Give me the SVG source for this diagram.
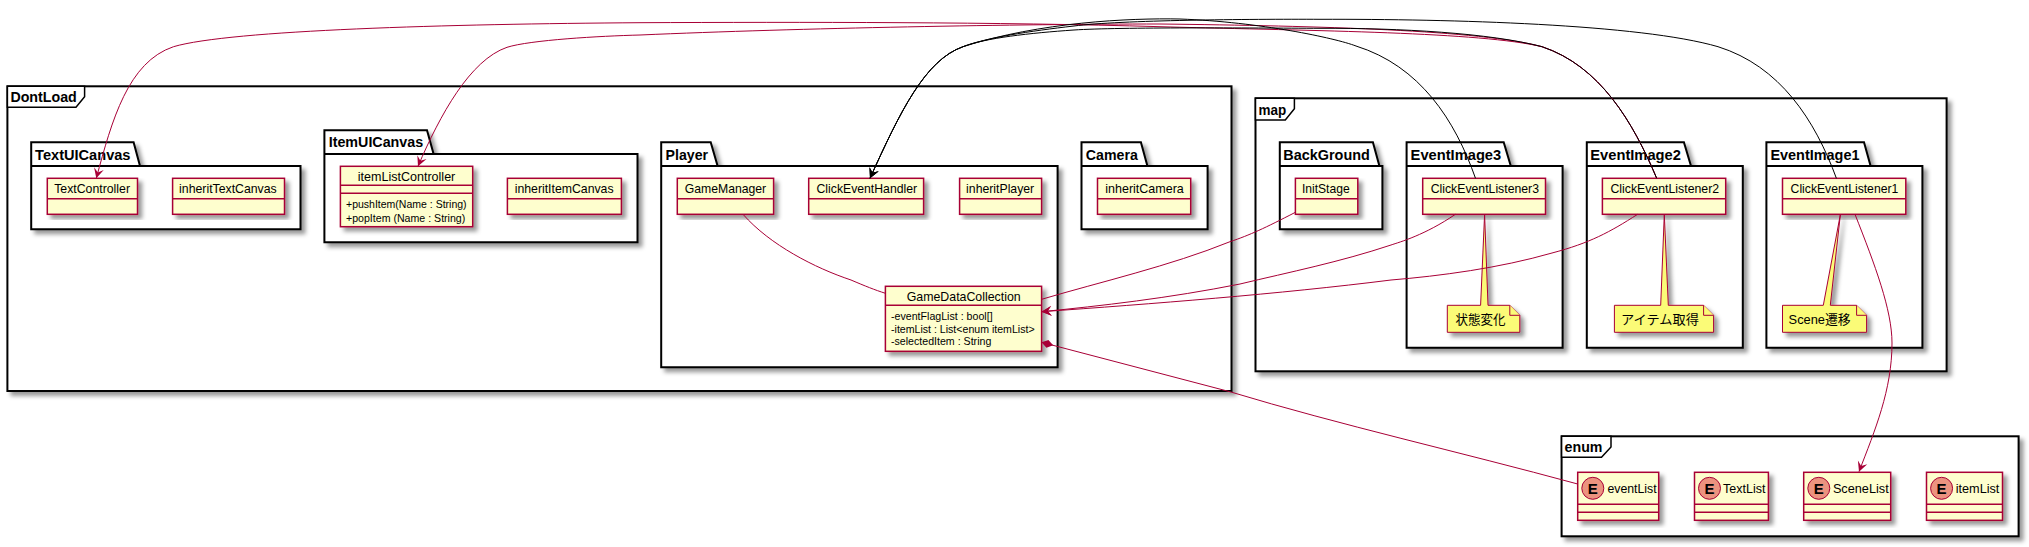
<svg xmlns="http://www.w3.org/2000/svg" width="2029" height="547" viewBox="0 0 2029 547">
<style>
text{font-family:"Liberation Sans",Arial,"Noto Sans CJK JP",sans-serif;fill:#000}
.pk{font-size:14px;font-weight:bold}
.cn{font-size:13px}
.mb{font-size:11px}
.nt{font-size:13px;font-family:"Liberation Sans","Noto Sans CJK JP",sans-serif}
.sh{filter:url(#shadow)}
.pkg{fill:#fff;stroke:#000;stroke-width:2}
.lab{fill:#fff;stroke:#000;stroke-width:1.5}
.box{fill:#FEFECE;stroke:#A80036;stroke-width:1.5}
.div{fill:none;stroke:#A80036;stroke-width:1.5}
.note{fill:#FBFB77;stroke:#A80036;stroke-width:1}
.circ{fill:#EB937F;stroke:#A80036;stroke-width:1}
.e{font-size:15px;font-weight:bold;text-anchor:middle}
.r{fill:none;stroke:#A80036;stroke-width:1}
.k{fill:none;stroke:#000;stroke-width:1}
</style>
<defs>
<filter id="shadow" x="-10%" y="-10%" width="125%" height="125%">
<feGaussianBlur in="SourceAlpha" stdDeviation="2"/>
<feColorMatrix type="matrix" values="0 0 0 0 0 0 0 0 0 0 0 0 0 0 0 0 0 0 .4 0"/>
<feOffset dx="4" dy="4" result="b"/>
<feBlend in="SourceGraphic" in2="b" mode="normal"/>
</filter>
<marker id="arrR" markerUnits="userSpaceOnUse" markerWidth="14" markerHeight="12" refX="11" refY="6" orient="auto" overflow="visible"><path d="M1,1 L11,6 L1,11 L5,6 Z" fill="#A80036"/></marker>
<marker id="arrK" markerUnits="userSpaceOnUse" markerWidth="14" markerHeight="12" refX="11" refY="6" orient="auto" overflow="visible"><path d="M1,1 L11,6 L1,11 L5,6 Z" fill="#000"/></marker>
<marker id="dia" markerUnits="userSpaceOnUse" markerWidth="14" markerHeight="10" refX="0" refY="5" orient="auto" overflow="visible"><path d="M0,5 L6,1 L12,5 L6,9 Z" fill="#A80036"/></marker>
</defs>

<g id="frame-DontLoad"><rect class="pkg sh" x="7.4" y="86.3" width="1224.1" height="304.7"/><path class="lab" d="M7.4,107.3H76L84.6,96.7V86.3H7.4Z"/><text class="pk" x="10.4" y="101.7" textLength="66.4" lengthAdjust="spacingAndGlyphs">DontLoad</text></g>
<g id="frame-map"><rect class="pkg sh" x="1255.5" y="98.3" width="691.1" height="273"/><path class="lab" d="M1255.5,120H1285.3L1294.4,108.7V98.3H1255.5Z"/><text class="pk" x="1258.6" y="115" textLength="27.7" lengthAdjust="spacingAndGlyphs">map</text></g>
<g id="frame-enum"><rect class="pkg sh" x="1561.6" y="436.3" width="457" height="100"/><path class="lab" d="M1561.6,457.3H1601.5L1611,447V436.3H1561.6Z"/><text class="pk" x="1564.6" y="451.7" textLength="37.8" lengthAdjust="spacingAndGlyphs">enum</text></g>

<g id="pkg-TextUICanvas"><path class="pkg sh" d="M31.2,142.3H133.6L140,166H300.5V229.3H31.2Z"/><path class="pkg" d="M31.2,166H140" /><text class="pk" x="35.1" y="160" textLength="95.4" lengthAdjust="spacingAndGlyphs">TextUICanvas</text></g>
<g id="pkg-ItemUICanvas"><path class="pkg sh" d="M324.4,130.3H427L433.6,154H637.5V242.3H324.4Z"/><path class="pkg" d="M324.4,154H433.6"/><text class="pk" x="328.7" y="147.3" textLength="94.5" lengthAdjust="spacingAndGlyphs">ItemUICanvas</text></g>
<g id="pkg-Player"><path class="pkg sh" d="M661.2,142.3H710.7L717.6,166H1057.6V367.3H661.2Z"/><path class="pkg" d="M661.2,166H717.6"/><text class="pk" x="665.6" y="160" textLength="42.5" lengthAdjust="spacingAndGlyphs">Player</text></g>
<g id="pkg-Camera"><path class="pkg sh" d="M1081.5,142.3H1140.9L1147.4,166H1207.6V229.3H1081.5Z"/><path class="pkg" d="M1081.5,166H1147.4"/><text class="pk" x="1085.8" y="160" textLength="52" lengthAdjust="spacingAndGlyphs">Camera</text></g>
<g id="pkg-BackGround"><path class="pkg sh" d="M1279.8,142.3H1372.9L1379.4,166H1382.4V229.3H1279.8Z"/><path class="pkg" d="M1279.8,166H1382.4"/><text class="pk" x="1283.3" y="160" textLength="86.5" lengthAdjust="spacingAndGlyphs">BackGround</text></g>
<g id="pkg-EventImage3"><path class="pkg sh" d="M1406.6,142.3H1503.7L1510.8,166H1562.6V347.7H1406.6Z"/><path class="pkg" d="M1406.6,166H1510.8"/><text class="pk" x="1410.6" y="160" textLength="90.6" lengthAdjust="spacingAndGlyphs">EventImage3</text></g>
<g id="pkg-EventImage2"><path class="pkg sh" d="M1586.8,142.3H1683.9L1691,166H1742.8V347.7H1586.8Z"/><path class="pkg" d="M1586.8,166H1691"/><text class="pk" x="1590.3" y="160" textLength="90.6" lengthAdjust="spacingAndGlyphs">EventImage2</text></g>
<g id="pkg-EventImage1"><path class="pkg sh" d="M1766.4,142.3H1864L1870.6,166H1922.4V347.7H1766.4Z"/><path class="pkg" d="M1766.4,166H1870.6"/><text class="pk" x="1770.4" y="160" textLength="89.1" lengthAdjust="spacingAndGlyphs">EventImage1</text></g>

<g id="TextController"><rect class="box sh" x="47.3" y="178.3" width="90.2" height="36"/><path class="div" d="M47.3,198.7H137.5"/><text class="cn" x="54.2" y="193.3" textLength="75.8" lengthAdjust="spacingAndGlyphs">TextController</text></g>
<g id="inheritTextCanvas"><rect class="box sh" x="172.6" y="178.3" width="111.9" height="36"/><path class="div" d="M172.6,198.7H284.5"/><text class="cn" x="179.1" y="193.3" textLength="97.6" lengthAdjust="spacingAndGlyphs">inheritTextCanvas</text></g>
<g id="itemListController"><rect class="box sh" x="340.4" y="166.3" width="132.3" height="60.4"/><path class="div" d="M340.4,185.3H472.7M340.4,193.3H472.7"/><text class="cn" x="357.8" y="181.3" textLength="97.5" lengthAdjust="spacingAndGlyphs">itemListController</text><text class="mb" x="346" y="208.3" textLength="120.6" lengthAdjust="spacingAndGlyphs">+pushItem(Name : String)</text><text class="mb" x="346" y="221.5" textLength="119.3" lengthAdjust="spacingAndGlyphs">+popItem (Name : String)</text></g>
<g id="inheritItemCanvas"><rect class="box sh" x="507.4" y="178.3" width="114" height="36"/><path class="div" d="M507.4,198.7H621.4"/><text class="cn" x="514.7" y="193.3" textLength="98.9" lengthAdjust="spacingAndGlyphs">inheritItemCanvas</text></g>
<g id="GameManager"><rect class="box sh" x="677.3" y="178.3" width="96.3" height="36"/><path class="div" d="M677.3,198.7H773.6"/><text class="cn" x="684.7" y="193.3" textLength="81.5" lengthAdjust="spacingAndGlyphs">GameManager</text></g>
<g id="ClickEventHandler"><rect class="box sh" x="808.7" y="178.3" width="114.9" height="36"/><path class="div" d="M808.7,198.7H923.6"/><text class="cn" x="816.5" y="193.3" textLength="100.6" lengthAdjust="spacingAndGlyphs">ClickEventHandler</text></g>
<g id="inheritPlayer"><rect class="box sh" x="959.6" y="178.3" width="82" height="36"/><path class="div" d="M959.6,198.7H1041.6"/><text class="cn" x="966.1" y="193.3" textLength="68.1" lengthAdjust="spacingAndGlyphs">inheritPlayer</text></g>
<g id="inheritCamera"><rect class="box sh" x="1097.5" y="178.3" width="93.2" height="36"/><path class="div" d="M1097.5,198.7H1190.7"/><text class="cn" x="1105.3" y="193.3" textLength="78.5" lengthAdjust="spacingAndGlyphs">inheritCamera</text></g>
<g id="GameDataCollection"><rect class="box sh" x="885.4" y="286.3" width="156.2" height="65"/><path class="div" d="M885.4,305.3H1041.6"/><text class="cn" x="906.7" y="300.7" textLength="114" lengthAdjust="spacingAndGlyphs">GameDataCollection</text><text class="mb" x="891" y="320" textLength="101.6" lengthAdjust="spacingAndGlyphs">-eventFlagList : bool[]</text><text class="mb" x="891" y="332.7" textLength="143.6" lengthAdjust="spacingAndGlyphs">-itemList : List&lt;enum itemList&gt;</text><text class="mb" x="891" y="345" textLength="100.3" lengthAdjust="spacingAndGlyphs">-selectedItem : String</text></g>

<g id="InitStage"><rect class="box sh" x="1295.4" y="178.3" width="62.4" height="36"/><path class="div" d="M1295.4,198.7H1357.8"/><text class="cn" x="1301.9" y="193.3" textLength="47.8" lengthAdjust="spacingAndGlyphs">InitStage</text></g>
<g id="ClickEventListener3"><rect class="box sh" x="1422.7" y="178.3" width="122.8" height="36"/><path class="div" d="M1422.7,198.7H1545.5"/><text class="cn" x="1430.7" y="193.3" textLength="108.3" lengthAdjust="spacingAndGlyphs">ClickEventListener3</text></g>
<g id="ClickEventListener2"><rect class="box sh" x="1602.4" y="178.3" width="123.3" height="36"/><path class="div" d="M1602.4,198.7H1725.7"/><text class="cn" x="1610.4" y="193.3" textLength="108.7" lengthAdjust="spacingAndGlyphs">ClickEventListener2</text></g>
<g id="ClickEventListener1"><rect class="box sh" x="1782.5" y="178.3" width="123.3" height="36"/><path class="div" d="M1782.5,198.7H1905.8"/><text class="cn" x="1790.6" y="193.3" textLength="107.7" lengthAdjust="spacingAndGlyphs">ClickEventListener1</text></g>

<g id="note-state"><path class="note sh" d="M1447.3,305.3H1480.6L1484.6,214.3L1488,305.3H1509.8L1519.8,315.3V332.3H1447.3Z"/><path class="note" d="M1509.8,305.3V315.3H1519.8"/><text class="nt" x="1455.4" y="324" textLength="50" lengthAdjust="spacingAndGlyphs">状態変化</text></g>
<g id="note-item"><path class="note sh" d="M1614.4,305.3H1660.7L1664.3,214.3L1668.3,305.3H1703.6L1713.6,315.3V332.3H1614.4Z"/><path class="note" d="M1703.6,305.3V315.3H1713.6"/><text class="nt" x="1621" y="324" textLength="78" lengthAdjust="spacingAndGlyphs">アイテム取得</text></g>
<g id="note-scene"><path class="note sh" d="M1782.5,305.3H1823.3L1840.4,214.3L1830.3,305.3H1856.6L1866.6,315.3V332.3H1782.5Z"/><path class="note" d="M1856.6,305.3V315.3H1866.6"/><text class="nt" x="1788.6" y="324" textLength="62" lengthAdjust="spacingAndGlyphs">Scene遷移</text></g>

<g id="eventList"><rect class="box sh" x="1577.7" y="472.3" width="81" height="48"/><path class="div" d="M1577.7,504.3H1658.7M1577.7,512.3H1658.7"/><circle class="circ" cx="1592.8" cy="488.3" r="11"/><text class="e" x="1592.8" y="494">E</text><text class="cn" x="1607.4" y="492.7" textLength="49.3" lengthAdjust="spacingAndGlyphs">eventList</text></g>
<g id="TextList"><rect class="box sh" x="1694.5" y="472.3" width="73.9" height="48"/><path class="div" d="M1694.5,504.3H1768.4M1694.5,512.3H1768.4"/><circle class="circ" cx="1709.5" cy="488.3" r="11"/><text class="e" x="1709.5" y="494">E</text><text class="cn" x="1723.1" y="492.7" textLength="42.3" lengthAdjust="spacingAndGlyphs">TextList</text></g>
<g id="SceneList"><rect class="box sh" x="1803.7" y="472.3" width="87" height="48"/><path class="div" d="M1803.7,504.3H1890.7M1803.7,512.3H1890.7"/><circle class="circ" cx="1818.8" cy="488.3" r="11"/><text class="e" x="1818.8" y="494">E</text><text class="cn" x="1832.9" y="492.7" textLength="55.8" lengthAdjust="spacingAndGlyphs">SceneList</text></g>
<g id="itemList"><rect class="box sh" x="1926.5" y="472.3" width="76" height="48"/><path class="div" d="M1926.5,504.3H2002.5M1926.5,512.3H2002.5"/><circle class="circ" cx="1941.6" cy="488.3" r="11"/><text class="e" x="1941.6" y="494">E</text><text class="cn" x="1955.7" y="492.7" textLength="43.7" lengthAdjust="spacingAndGlyphs">itemList</text></g>

<g id="connectors">
<path class="r" marker-end="url(#arrR)" d="M1656.7,178.3C1633,122 1600,66 1542,46.7C1480,32 1320,31 1160,26.7C1000,22 800,22 640,22.7C450,24 230,30 173.5,46.7C128,62 112,120 96.3,178.3"/>
<path class="r" marker-end="url(#arrR)" d="M1656.7,178.3C1633,122 1600,66 1542,46.7C1480,30 1320,26 1160,24C1020,24 800,28 640,35C600,36 530,40 507,47.3C470,60 440,115 418,166.3"/>
<path class="k" marker-end="url(#arrK)" d="M1836.4,178.3C1815,120 1780,66 1718,46.7C1640,24 1450,19 1320,19.3C1250,19 1120,20 1074,26C1030,31 985,38 963,46.7C925,60 900,112 870,178.3"/>
<path class="k" marker-end="url(#arrK)" d="M1656.7,178.3C1633,122 1600,66 1542,46.7C1490,33 1400,28 1320,28.3C1250,28 1120,27 1074,30C1030,33 985,38 963,46.7C925,60 900,112 870,178.3"/>
<path class="k" marker-end="url(#arrK)" d="M1475.5,178.3C1455,120 1420,66 1356,46C1335,38 1260,22 1180,19C1130,18 1040,22 963,46.7C925,60 900,112 870,178.3"/>
<path class="r" d="M743,214.3C770,245 815,268 851,280C865,286 875,290 885.4,293.3"/>
<path class="r" d="M1295.4,212.3C1265,228 1250,235 1230,241.7C1170,266 1100,282 1041.6,299.3"/>
<path class="r" marker-end="url(#arrR)" d="M1455.4,214.3C1425,235 1400,242 1391,245C1340,262 1290,272 1240,284C1170,298 1100,306 1041.6,311.7"/>
<path class="r" marker-end="url(#arrR)" d="M1637.6,214.3C1610,232 1590,243 1552,253C1500,268 1440,276 1391,280C1280,294 1150,304 1041.6,311.7"/>
<path class="r" marker-start="url(#dia)" d="M1041.6,342.3L1229.8,391.7C1340,425 1460,452 1577.7,484"/>
<path class="r" marker-end="url(#arrR)" d="M1855,214.3C1875,265 1892,310 1892,343C1892,390 1875,430 1859,471.7"/>
</g>
</svg>
